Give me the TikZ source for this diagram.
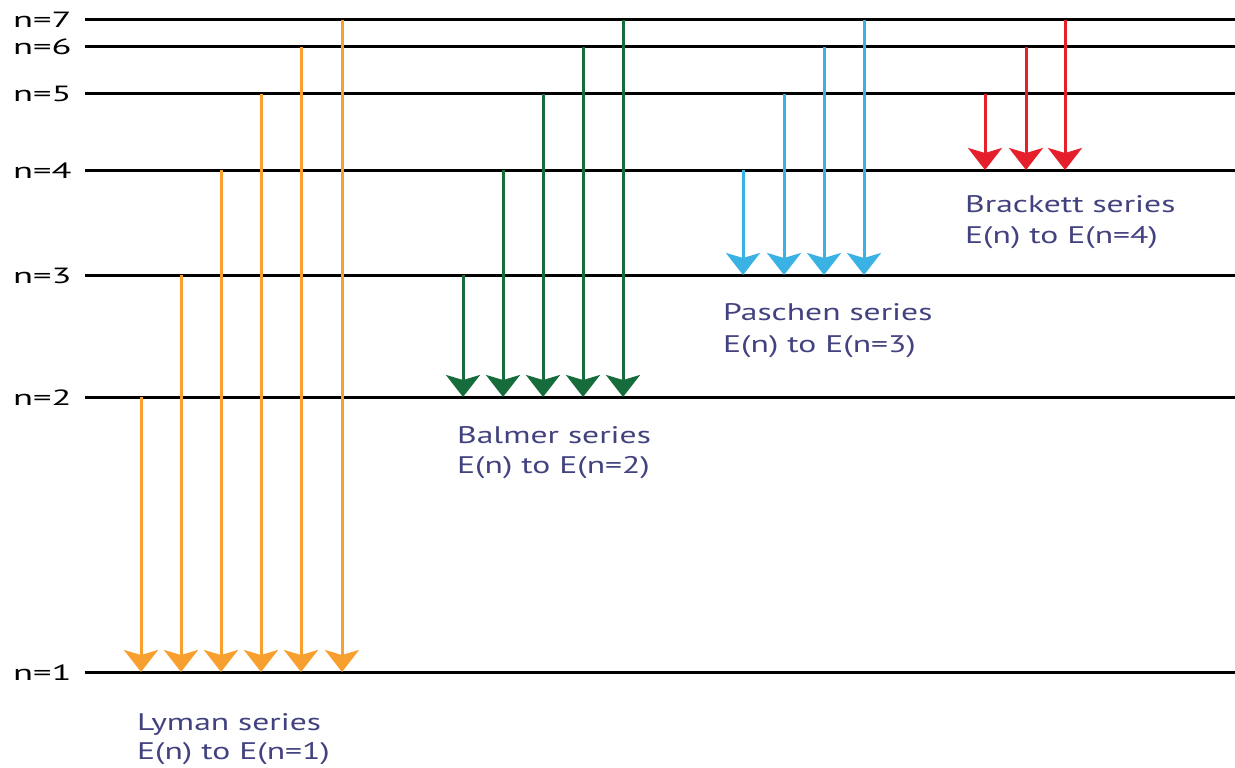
\documentclass[tikz,border=0pt]{standalone}
\usepackage{fontspec}
\setmainfont{PT Sans}
\usetikzlibrary{arrows.meta}
\definecolor{lymanc}{RGB}{247,160,48}
\definecolor{balmerc}{RGB}{22,108,58}
\definecolor{paschenc}{RGB}{58,178,228}
\definecolor{brackettc}{RGB}{230,32,42}
\definecolor{txtc}{RGB}{66,66,128}
\tikzset{
  level/.style={line width=3pt, black},
  lvlabel/.style={anchor=base west, inner sep=0pt, font=\fontsize{22}{26}\selectfont},
  serlabel/.style={anchor=base west, inner sep=0pt, text=txtc, font=\fontsize{24}{30}\selectfont},
  trans/.style={line width=3pt, -{Stealth[length=22pt, width=34pt, inset=5pt]}},
  lyman/.style={trans, draw=lymanc, fill=lymanc},
  balmer/.style={trans, draw=balmerc, fill=balmerc},
  paschen/.style={trans, draw=paschenc, fill=paschenc},
  brackett/.style={trans, draw=brackettc, fill=brackettc},
}
\newcommand{\sx}[2][1.66]{\scalebox{#1}[1]{#2}}
\begin{document}
\begin{tikzpicture}[x=1pt, y=-1pt]
\useasboundingbox (0,0) rectangle (1235,768);
% level coordinates (left end of each line)
\coordinate (L7) at (85,20);
\coordinate (L6) at (85,47);
\coordinate (L5) at (85,94);
\coordinate (L4) at (85,170);
\coordinate (L3) at (85,275);
\coordinate (L2) at (85,397);
\coordinate (L1) at (85,672);
\foreach \n/\y in {7/20,6/47,5/94,4/170,3/275,2/397,1/672}{
  \coordinate (R\n) at (1235,\y);
  \draw[level] (L\n) -- (R\n);
  \node[lvlabel] (lab\n) at (13,\y+8) {\sx{n=\n}};
}
% Lyman series
\foreach \up/\dx in {2/56,3/96,4/136,5/176,6/216,7/257}{
  \draw[lyman] ([xshift=\dx pt]L\up) -- ([xshift=\dx pt]L1);
}
% Balmer series
\foreach \up/\dx in {3/378,4/418,5/458,6/498,7/538}{
  \draw[balmer] ([xshift=\dx pt]L\up) -- ([xshift=\dx pt]L2);
}
% Paschen series
\foreach \up/\dx in {4/658,5/699,6/739,7/779}{
  \draw[paschen] ([xshift=\dx pt]L\up) -- ([xshift=\dx pt]L3);
}
% Brackett series
\foreach \up/\dx in {5/900,6/941,7/980}{
  \draw[brackett] ([xshift=\dx pt]L\up) -- ([xshift=\dx pt]L4);
}
% series labels
\node[serlabel] (lyA) at (137,730) {\sx[1.4]{Lyman series}};
\node[serlabel] (lyB) at (137,759) {\sx[1.4]{E(n) to E(n=1)}};
\node[serlabel] (baA) at (457,443) {\sx[1.4]{Balmer series}};
\node[serlabel] (baB) at (457,473) {\sx[1.4]{E(n) to E(n=2)}};
\node[serlabel] (paA) at (723,320) {\sx[1.4]{Paschen series}};
\node[serlabel] (paB) at (723,352) {\sx[1.4]{E(n) to E(n=3)}};
\node[serlabel] (brA) at (965,212) {\sx[1.4]{Brackett series}};
\node[serlabel] (brB) at (965,243) {\sx[1.4]{E(n) to E(n=4)}};
\end{tikzpicture}
\end{document}
